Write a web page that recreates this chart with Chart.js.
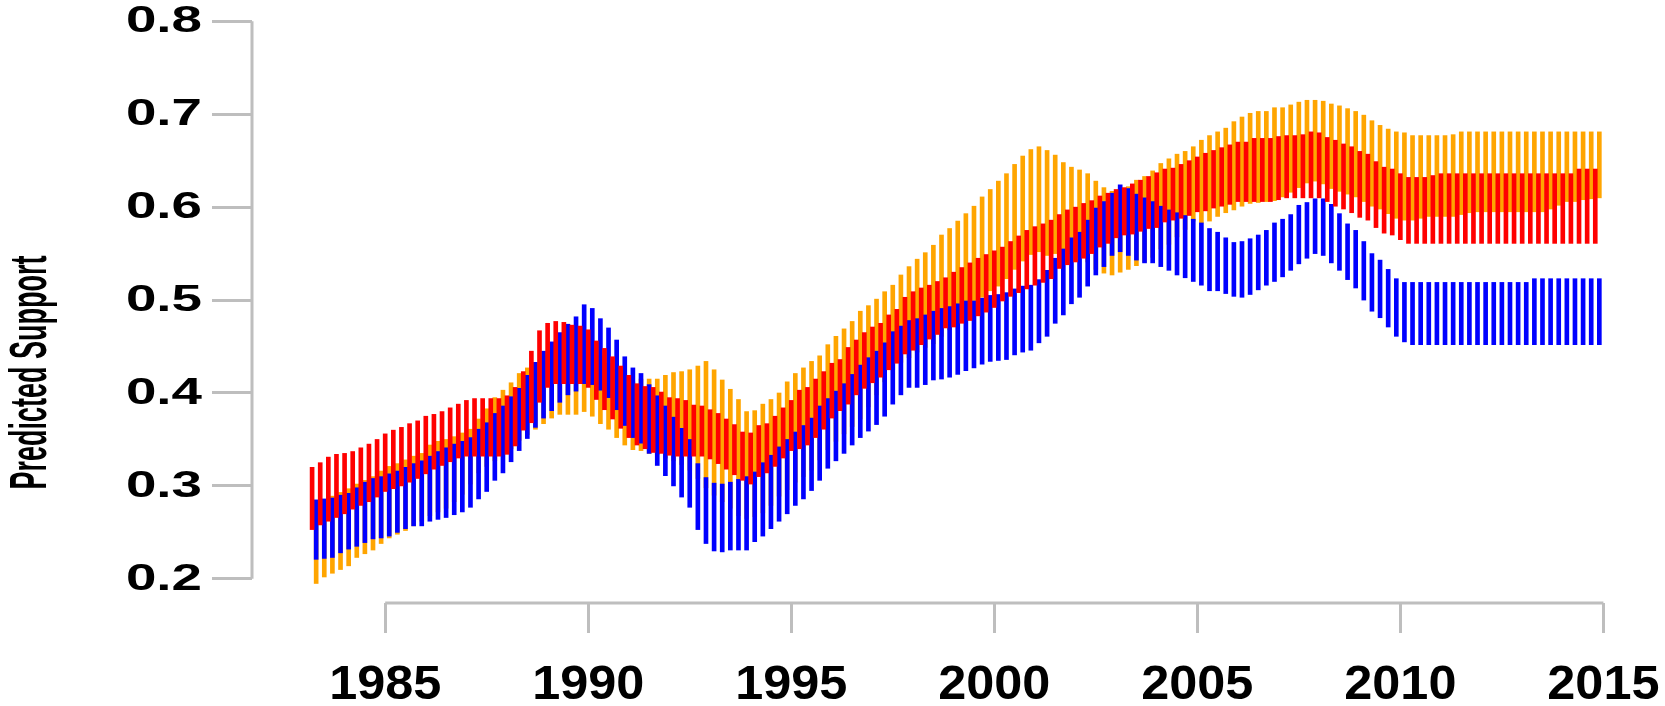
<!DOCTYPE html>
<html>
<head>
<meta charset="utf-8">
<script src="https://cdn.jsdelivr.net/npm/chart.js@4.4.1/dist/chart.umd.min.js"></script>
<style>
  html, body { margin: 0; padding: 0; background: #ffffff; }
  #wrap { width: 1665px; height: 706px; }
</style>
</head>
<body>
<div id="wrap"><canvas id="chart" width="1665" height="706"></canvas></div>
<script>
// Predicted support intervals, one bar every 0.2 year from 1983.2
const startYear = 1983.2;
const stepYears = 0.2;

const redLow = [
  .253,.258,.262,.266,.270,.275,.279,.283,.288,.294,
  .297,.300,.304,.308,.313,.318,.322,.326,.330,.332,
  .332,.332,.332,.332,.334,.343,.360,.368,.390,.406,
  .410,.410,.410,.410,.406,.393,.382,.372,.362,.352,
  .344,.340,.336,.335,.333,.332,.332,.332,.332,.329,
  .324,.318,.312,.306,.302,.310,.314,.321,.330,.338,
  .340,.344,.352,.361,.373,.381,.388,.398,.405,.411,
  .417,.425,.432,.442,.446,.452,.458,.463,.470,.471,
  .475,.478,.483,.487,.492,.499,.504,.508,.512,.516,
  .519,.523,.534,.538,.541,.545,.550,.557,.561,.567,
  .570,.571,.574,.577,.578,.584,.586,.588,.591,.595,
  .596,.599,.601,.603,.606,.606,.606,.606,.606,.608,
  .610,.610,.610,.610,.610,.606,.601,.598,.594,.589,
  .586,.578,.572,.570,.565,.561,.561,.561,.561,.561,
  .561,.561,.561,.561,.561,.561,.561,.561,.561,.561,
  .561,.561,.561,.561,.561,.561,.561,.561,.561
];
const redHigh = [
  .320,.325,.331,.334,.335,.337,.341,.345,.350,.356,
  .360,.363,.367,.370,.375,.377,.380,.384,.388,.392,
  .394,.394,.394,.394,.397,.406,.423,.445,.467,.475,
  .477,.476,.473,.472,.468,.456,.448,.439,.429,.419,
  .410,.407,.406,.401,.395,.394,.392,.387,.386,.382,
  .378,.372,.366,.358,.357,.365,.367,.375,.384,.392,
  .403,.406,.415,.423,.432,.436,.449,.457,.465,.471,
  .475,.484,.490,.503,.509,.513,.516,.520,.524,.530,
  .535,.540,.545,.549,.553,.557,.563,.569,.575,.579,
  .582,.586,.592,.597,.600,.604,.607,.612,.615,.619,
  .621,.625,.629,.633,.637,.641,.642,.646,.650,.654,
  .658,.661,.664,.667,.670,.670,.674,.674,.674,.676,
  .677,.677,.678,.681,.680,.675,.672,.668,.665,.660,
  .657,.649,.643,.641,.636,.632,.632,.632,.634,.636,
  .636,.636,.636,.636,.636,.636,.636,.636,.636,.636,
  .636,.636,.636,.636,.636,.636,.641,.641,.641
];
const blueLow = [
  .221,.222,.223,.228,.232,.235,.239,.243,.244,.246,
  .250,.254,.257,.257,.262,.264,.266,.269,.272,.277,
  .286,.294,.306,.314,.326,.338,.351,.363,.373,.381,
  .390,.398,.402,.410,.409,.403,.395,.382,.365,.352,
  .346,.335,.322,.311,.300,.288,.277,.253,.238,.230,
  .229,.231,.231,.231,.240,.246,.254,.262,.270,.279,
  .286,.295,.306,.319,.327,.335,.344,.352,.359,.366,
  .375,.388,.398,.406,.406,.409,.414,.415,.417,.420,
  .424,.427,.431,.434,.435,.436,.441,.444,.446,.454,
  .461,.475,.484,.496,.503,.515,.527,.536,.548,.552,
  .548,.543,.540,.540,.536,.532,.527,.524,.520,.516,
  .510,.510,.507,.504,.503,.506,.511,.516,.520,.525,
  .532,.539,.545,.550,.548,.540,.532,.522,.513,.500,
  .488,.481,.471,.461,.455,.452,.452,.452,.452,.452,
  .452,.452,.452,.452,.452,.452,.452,.452,.452,.452,
  .452,.452,.452,.452,.452,.452,.452,.452,.452
];
const blueHigh = [
  .285,.286,.287,.290,.292,.298,.304,.308,.310,.313,
  .316,.320,.324,.327,.332,.337,.341,.345,.348,.352,
  .361,.368,.378,.386,.396,.405,.419,.433,.445,.455,
  .465,.474,.482,.495,.491,.480,.470,.457,.439,.427,
  .421,.409,.397,.386,.374,.362,.350,.324,.309,.303,
  .302,.304,.307,.310,.315,.325,.333,.342,.350,.358,
  .365,.373,.386,.394,.402,.410,.420,.430,.438,.445,
  .454,.466,.472,.478,.480,.484,.488,.491,.493,.496,
  .499,.499,.502,.505,.506,.508,.512,.515,.516,.522,
  .532,.545,.555,.567,.573,.586,.599,.606,.615,.624,
  .620,.614,.610,.606,.601,.597,.594,.591,.587,.583,
  .577,.573,.567,.562,.563,.566,.570,.575,.583,.587,
  .592,.602,.605,.609,.609,.603,.593,.582,.575,.563,
  .550,.543,.533,.523,.519,.519,.519,.519,.519,.519,
  .519,.519,.519,.519,.519,.519,.519,.519,.519,.519,
  .523,.523,.523,.523,.523,.523,.523,.523,.523
];
const orangeLow = [
  .195,.202,.206,.210,.214,.223,.227,.231,.238,.244,
  .248,.252,.257,.262,.268,.272,.276,.283,.291,.302,
  .314,.321,.327,.334,.340,.349,.355,.361,.367,.373,
  .377,.377,.377,.380,.375,.367,.361,.352,.344,.339,
  .338,.335,.334,.330,.327,.323,.317,.308,.298,.290,
  .283,.276,.268,.265,.267,.271,.279,.289,.296,.304,
  .310,.317,.328,.339,.348,.356,.364,.372,.385,.398,
  .412,.425,.433,.438,.444,.449,.453,.461,.468,.476,
  .484,.493,.503,.510,.515,.523,.533,.542,.549,.552,
  .548,.550,.552,.550,.546,.541,.533,.529,.527,.530,
  .533,.537,.541,.546,.555,.560,.568,.576,.585,.583,
  .585,.590,.594,.597,.601,.604,.605,.606,.607,.611,
  .616,.621,.626,.628,.625,.620,.617,.614,.611,.606,
  .601,.598,.593,.588,.586,.586,.588,.590,.590,.590,
  .590,.592,.594,.595,.595,.595,.595,.595,.595,.595,
  .595,.595,.598,.602,.606,.606,.608,.609,.610
];
const orangeHigh = [
  .281,.285,.289,.293,.297,.302,.306,.310,.316,.321,
  .324,.328,.332,.335,.344,.348,.350,.353,.357,.361,
  .372,.383,.395,.403,.411,.421,.427,.432,.440,.446,
  .450,.452,.452,.450,.446,.440,.432,.425,.415,.412,
  .415,.415,.415,.419,.422,.423,.425,.429,.434,.425,
  .414,.404,.393,.380,.381,.388,.393,.400,.412,.421,
  .427,.434,.440,.452,.461,.469,.477,.488,.494,.501,
  .509,.516,.527,.536,.544,.551,.559,.570,.577,.585,
  .593,.601,.611,.619,.628,.636,.646,.655,.662,.665,
  .661,.656,.648,.643,.640,.636,.628,.621,.617,.617,
  .622,.629,.633,.639,.647,.652,.657,.660,.665,.672,
  .677,.681,.685,.692,.697,.701,.703,.703,.707,.707,
  .710,.713,.715,.715,.714,.711,.709,.706,.703,.699,
  .693,.688,.684,.681,.680,.677,.677,.677,.677,.677,
  .678,.681,.681,.681,.681,.681,.681,.681,.681,.681,
  .681,.681,.681,.681,.681,.681,.681,.681,.681
];

const xTicks = [1985, 1990, 1995, 2000, 2005, 2010, 2015];
const xTickLabels = ["1985", "1990", "1995", "2000", "2005", "2010", "2015"];
const yTicks = [0.2, 0.3, 0.4, 0.5, 0.6, 0.7, 0.8];
const yTickLabels = ["0.2", "0.3", "0.4", "0.5", "0.6", "0.7", "0.8"];
const yTitle = "Predicted Support";

const axisGrey = "#bebebe";
const years = redLow.map((_, i) => Math.round((startYear + i * stepYears) * 100) / 100);

// blue and orange share the slot half a step to the right of red
function toBars(lows, highs, shift) {
  return lows.map((lo, i) => ({ x: years[i] + shift, y: [lo, highs[i]] }));
}

// R-like axes: lines only between first and last tick, stretched text
const rAxes = {
  id: "rAxes",
  afterDraw(chart) {
    const { ctx, chartArea } = chart;
    const xs = chart.scales.x;
    const ys = chart.scales.y;
    ctx.save();
    ctx.strokeStyle = axisGrey;
    ctx.lineWidth = 3;
    ctx.beginPath();
    ctx.moveTo(xs.getPixelForValue(xTicks[0]), chartArea.bottom);
    ctx.lineTo(xs.getPixelForValue(xTicks[xTicks.length - 1]), chartArea.bottom);
    ctx.moveTo(chartArea.left, ys.getPixelForValue(yTicks[0]));
    ctx.lineTo(chartArea.left, ys.getPixelForValue(yTicks[yTicks.length - 1]));
    ctx.stroke();

    ctx.fillStyle = "#000000";
    ctx.font = 'bold 36px "Liberation Sans", Arial, sans-serif';
    ctx.textAlign = "right";
    ctx.textBaseline = "middle";
    yTicks.forEach((v, i) => {
      ctx.save();
      ctx.translate(chartArea.left - 50, ys.getPixelForValue(v) + 1);
      ctx.scale(1.52, 1);
      ctx.fillText(yTickLabels[i], 0, 0);
      ctx.restore();
    });

    ctx.font = 'bold 48px "Liberation Sans", Arial, sans-serif';
    ctx.textAlign = "center";
    ctx.textBaseline = "middle";
    xTicks.forEach((v, i) => {
      ctx.save();
      ctx.translate(xs.getPixelForValue(v), chartArea.bottom + 83);
      ctx.scale(1.05, 1);
      ctx.fillText(xTickLabels[i], 0, 0);
      ctx.restore();
    });

    ctx.font = 'bold 27px "Liberation Sans", Arial, sans-serif';
    ctx.save();
    ctx.translate(32, (chartArea.top + chartArea.bottom) / 2 + 65);
    ctx.scale(1.9, 1);
    ctx.rotate(-Math.PI / 2);
    ctx.fillText(yTitle, 0, 0);
    ctx.restore();
    ctx.restore();
  }
};

const barStyle = { barThickness: 4, grouped: false, borderWidth: 0, borderSkipped: false };

new Chart(document.getElementById("chart"), {
  type: "bar",
  data: {
    datasets: [
      { label: "red", data: toBars(redLow, redHigh, 0), backgroundColor: "#ff0000", ...barStyle },
      { label: "blue", data: toBars(blueLow, blueHigh, 0.1), backgroundColor: "#0000ff", ...barStyle },
      { label: "orange", data: toBars(orangeLow, orangeHigh, 0.1), backgroundColor: "#ffa500", ...barStyle }
    ]
  },
  options: {
    responsive: false,
    animation: false,
    layout: { padding: { left: 0, right: 21, top: 12, bottom: 0 } },
    plugins: { legend: { display: false }, tooltip: { enabled: false } },
    scales: {
      x: {
        type: "linear",
        min: 1981.72,
        max: 2016,
        offset: false,
        border: { display: false },
        grid: { drawOnChartArea: false, drawTicks: true, tickLength: 30, color: axisGrey, lineWidth: 3, offset: false },
        ticks: { display: false },
        afterBuildTicks: (scale) => { scale.ticks = xTicks.map(v => ({ value: v })); },
        afterFit: (scale) => { scale.height = 103; }
      },
      y: {
        min: 0.174,
        max: 0.81,
        border: { display: false },
        grid: { drawOnChartArea: false, drawTicks: true, tickLength: 40, color: axisGrey, lineWidth: 3 },
        ticks: { display: false },
        afterBuildTicks: (scale) => { scale.ticks = yTicks.map(v => ({ value: v })); },
        afterFit: (scale) => { scale.width = 252; }
      }
    }
  },
  plugins: [rAxes]
});
</script>
</body>
</html>
